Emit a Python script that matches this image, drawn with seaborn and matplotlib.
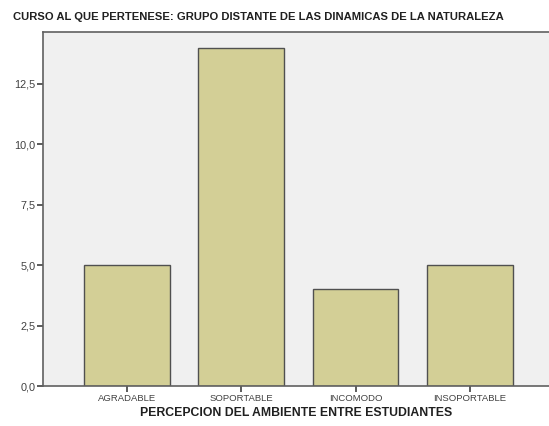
import matplotlib
matplotlib.use("Agg")
import matplotlib.pyplot as plt
import matplotlib.ticker as ticker
import seaborn as sns
import pandas as pd

categorias = ["AGRADABLE", "SOPORTABLE", "INCOMODO", "INSOPORTABLE"]
recuento = [5, 14, 4, 5]
ticks_y = [0, 2.5, 5, 7.5, 10, 12.5]

df = pd.DataFrame({"Percepcion": categorias, "Recuento": recuento})

sns.set_style("white")
plt.rcParams["font.family"] = ["Liberation Sans", "DejaVu Sans"]

fig = plt.figure(figsize=(5.49, 4.26), dpi=100)
ax = fig.add_axes([43 / 549, 40 / 426, 506 / 549, 354 / 426])
ax.set_facecolor("#F0F0F0")

sns.barplot(x="Percepcion", y="Recuento", data=df, color="#D3CF96",
            width=0.75, edgecolor="#505050", linewidth=1.0, saturation=1, ax=ax)

ax.set_xlim(-0.73, 3.69)
ax.set_ylim(0, 14.65)
ax.set_yticks(ticks_y)
ax.yaxis.set_major_formatter(ticker.FuncFormatter(lambda v, _: "{:.1f}".format(v).replace(".", ",")))
ax.tick_params(axis="both", bottom=True, left=True, length=4, width=1.2, color="#404040",
               labelcolor="#404040", pad=1.5, direction="out")
ax.tick_params(axis="y", labelsize=7.8)
ax.tick_params(axis="x", labelsize=6.8)

for side, sp in ax.spines.items():
    sp.set_color("#606060")
    sp.set_linewidth(1.2)
ax.spines["right"].set_visible(False)

ax.set_ylabel("")
ax.set_xlabel("PERCEPCION DEL AMBIENTE ENTRE ESTUDIANTES", fontsize=8.8,
              fontweight="bold", color="#202020", labelpad=3)

fig.text(13 / 549, 1 - 17 / 426, "CURSO AL QUE PERTENESE: GRUPO DISTANTE DE LAS DINAMICAS DE LA NATURALEZA",
         fontsize=8.1, fontweight="bold", color="#202020", va="center", ha="left")

fig.savefig("out.png", dpi=100, facecolor="white")
